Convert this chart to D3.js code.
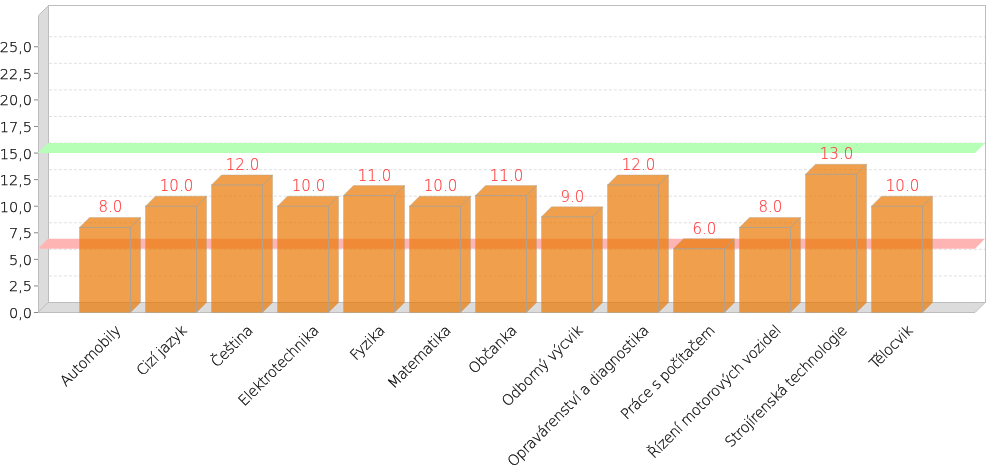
<!DOCTYPE html>
<html><head><meta charset="utf-8">
<script src="https://cdn.jsdelivr.net/npm/d3@7/dist/d3.min.js"></script>
<style>html,body{margin:0;padding:0;background:#fff}svg{display:block;will-change:transform}
text{font-family:"DejaVu Sans ExtraLight","DejaVu Sans Light","DejaVu Sans";font-weight:200}</style>
</head><body><svg id="c" width="990" height="470"></svg>
<script>
const categories=["Automobily","Cizí jazyk","Čeština","Elektrotechnika","Fyzika","Matematika","Občanka","Odborný výcvik","Opravárenství a diagnostika","Práce s počítačem","Řízení motorových vozidel","Strojírenská technologie","Tělocvik"];
const values=[8,10,12,10,11,10,11,9,12,6,8,13,10];
const yTicks=[0,2.5,5,7.5,10,12.5,15,17.5,20,22.5,25];
const markerValues=[15,6];
const markerColors=["#b6ffb6","#ffb4b4"];

const svg=d3.select("#c");
const dx=10,dy=-10;
const plotLeft=38,plotRight=975,plotFront=312.5,plotTop=15.5;
const x=d3.scaleBand().domain(categories).range([plotLeft-.5,plotRight-dx-.5]).paddingInner(15/66).paddingOuter(42/66);
const y=d3.scaleLinear().domain([0,28]).range([plotFront,plotFront-28*10.63]);
const poly=p=>p.map(q=>q.join(",")).join(" ");

// back wall
svg.append("rect").attr("x",plotLeft+dx+.5).attr("y",plotTop+dy).attr("width",plotRight-plotLeft).attr("height",plotFront-plotTop)
  .attr("fill","#fff").attr("stroke","#bdbdbd").attr("stroke-width",1);
// left wall
svg.append("polygon").attr("points",poly([[plotLeft+.5,plotTop],[plotLeft+dx+.5,plotTop+dy],[plotLeft+dx+.5,plotFront+dy],[plotLeft+.5,plotFront]]))
  .attr("fill","#dcdcdc").attr("stroke","#bdbdbd");
// floor
svg.append("polygon").attr("points",poly([[plotLeft,plotFront],[plotLeft+dx,plotFront+dy],[plotRight+dx,plotFront+dy],[plotRight,plotFront]]))
  .attr("fill","#dcdcdc").attr("stroke","#bdbdbd");

// gridlines
svg.append("g").selectAll("polyline").data(yTicks.filter(d=>d>0)).join("polyline")
  .attr("points",d=>poly([[plotLeft,y(d)],[plotLeft+dx,y(d)+dy],[plotRight+dx,y(d)+dy]]))
  .attr("fill","none").attr("stroke","#e0e0e0").attr("stroke-width",1).attr("stroke-dasharray","3,2");

// markers
svg.append("g").selectAll("polygon").data(markerValues).join("polygon")
  .attr("points",d=>poly([[plotLeft,y(d)],[plotLeft+dx,y(d)+dy],[plotRight+dx,y(d)+dy],[plotRight,y(d)]]))
  .attr("fill",(d,i)=>markerColors[i]);

// bars
const barFill="#ea7700",edge="#b3a18c";
const bars=svg.append("g").selectAll("g").data(categories).join("g");
const w=x.bandwidth();
bars.append("polygon").attr("points",(c,i)=>{const a=x(c),v=y(values[i]);
  return poly([[a,plotFront],[a,v],[a+dx,v+dy],[a+w+dx,v+dy],[a+w+dx,plotFront+dy],[a+w,plotFront]]);})
  .attr("fill",barFill).attr("fill-opacity",.7).attr("stroke",edge).attr("stroke-opacity",.4);
bars.append("polyline").attr("points",(c,i)=>{const a=x(c),v=y(values[i]);
  return poly([[a,v],[a+w,v],[a+w,plotFront]]);})
  .attr("fill","none").attr("stroke",edge);
bars.append("line").each(function(c,i){const a=x(c),v=y(values[i]);
  d3.select(this).attr("x1",a+w).attr("y1",v).attr("x2",a+w+dx).attr("y2",v+dy);})
  .attr("stroke",edge);
// value labels
bars.append("text").attr("x",c=>x(c)+w/2+dx/2+.5).attr("y",(c,i)=>y(values[i])+dy-5)
  .attr("text-anchor","middle").attr("font-size",15).attr("fill","#ff3c3c").attr("stroke","#ff3c3c").attr("stroke-width",.15)
  .text((c,i)=>d3.format(".1f")(values[i]));

// y axis
const ya=svg.append("g");
ya.selectAll("line").data(yTicks).join("line")
  .attr("x1",plotLeft-4).attr("x2",plotLeft).attr("y1",d=>y(d)).attr("y2",d=>y(d)).attr("stroke","#888");
ya.selectAll("text").data(yTicks).join("text").attr("x",plotLeft-6).attr("y",d=>y(d)+5.5)
  .attr("text-anchor","end").attr("font-size",14.5).attr("fill","#000").attr("stroke","#000").attr("stroke-width",.25)
  .text(d=>d3.format(".1f")(d).replace(".",","));
// x labels
svg.append("g").selectAll("text").data(categories).join("text")
  .attr("text-anchor","end").attr("font-size",14.5).attr("letter-spacing",-.42).attr("fill","#000").attr("stroke","#000").attr("stroke-width",.25)
  .attr("transform",c=>`translate(${x(c)+w/2+16.5},${plotFront+19}) rotate(-45)`)
  .text(c=>c);
</script></body></html>
